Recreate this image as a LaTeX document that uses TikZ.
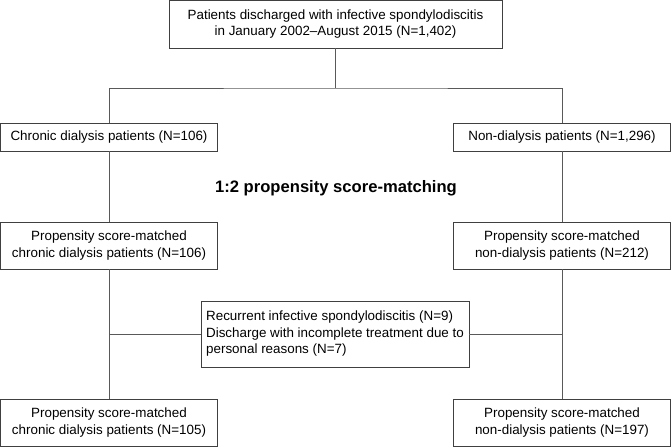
\documentclass[tikz,border=0pt]{standalone}
\usepackage{fontspec}
\setmainfont{Liberation Sans}
\usepackage{tikz}
\usetikzlibrary{positioning}

\begin{document}
\begin{tikzpicture}[
  x=1pt, y=-1pt,
  font=\fontsize{13.4}{16.5}\selectfont,
  box/.style={draw=black!75, line width=0.8pt, align=center, inner sep=0pt,
              minimum width=217pt, minimum height=47pt},
  slim/.style={box, minimum height=28pt},
  ln/.style={draw=black!65, line width=0.8pt},
]
\useasboundingbox (0,0) rectangle (671,447);
\node[box, minimum width=333pt, minimum height=48pt] (top) at (335.5,24)
  {Patients discharged with infective spondylodiscitis\\in January 2002--August 2015 (N=1,402)};
\node[slim] (dial)    at (109,137) {Chronic dialysis patients (N=106)};
\node[slim] (nondial) at (562,137) {Non-dialysis patients (N=1,296)};
\node[font=\fontsize{16.6}{20}\selectfont\bfseries] (psm) at (336,188) {1:2 propensity score-matching};
\node[box] (mdial)    at (109,245.5) {Propensity score-matched\\chronic dialysis patients (N=106)};
\node[box] (mnondial) at (562,245.5) {Propensity score-matched\\non-dialysis patients (N=212)};
\node[box, align=left, minimum width=268pt, minimum height=66pt] (excl) at (335,334)
  {Recurrent infective spondylodiscitis (N=9)\\Discharge with incomplete treatment due to\\personal reasons (N=7)};
\node[box] (fdial)    at (109,422.5) {Propensity score-matched\\chronic dialysis patients (N=105)};
\node[box] (fnondial) at (562,422.5) {Propensity score-matched\\non-dialysis patients (N=197)};
% junctions
\coordinate (jn) at (335.5,88);
\coordinate (ljn) at (mdial.south |- excl.west);
\coordinate (rjn) at (mnondial.south |- excl.east);
\draw[ln] (top) -- (jn);
\draw[ln] (dial.north) |- (jn) -| (nondial.north);
\draw[ln] (dial) -- (mdial); \draw[ln] (nondial) -- (mnondial);
\draw[ln] (mdial) -- (fdial); \draw[ln] (mnondial) -- (fnondial);
\draw[ln] (excl.west) -- (ljn); \draw[ln] (excl.east) -- (rjn);
\end{tikzpicture}
\end{document}
